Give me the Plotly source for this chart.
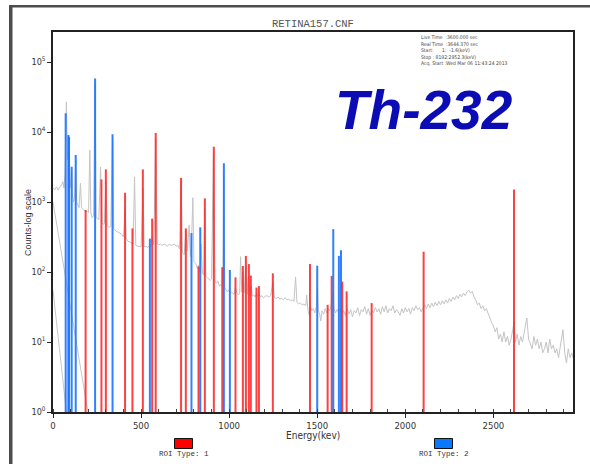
import plotly.graph_objects as go

# ---------------- data ----------------
# gray spectrum (energy keV, counts)
spec_energy = [0, 10, 20, 28, 40, 50, 56, 62, 68, 72, 76, 79, 82, 86, 89, 93, 97, 101, 106, 110,
               116, 122, 129, 134, 140, 148, 156, 162, 170, 178, 186, 194, 202, 209, 215, 222, 230, 239, 245, 252,
               260, 270, 278, 286, 292, 300, 308, 316, 328, 338, 345, 352, 360, 370, 380, 390, 400, 409, 416, 425,
               435, 445, 455, 463, 470, 480, 490, 500, 511, 518, 528, 538, 548, 556, 563, 572, 583, 592, 600, 610,
               620, 630, 640, 650, 660, 670, 680, 690, 700, 710, 718, 727, 735, 745, 755, 763, 773, 780, 786, 794,
               800, 810, 820, 826, 835, 840, 848, 856, 861, 868, 876, 885, 893, 900, 911, 920, 928, 936, 945, 954,
               962, 965, 969, 975, 982, 990, 998, 1005, 1012, 1020, 1028, 1036, 1044, 1052, 1060, 1065, 1072, 1078, 1085, 1095,
               1102, 1110, 1118, 1125, 1132, 1140, 1148, 1155, 1162, 1170, 1178, 1186, 1195, 1205, 1215, 1225, 1235, 1248, 1258, 1268,
               1278, 1288, 1298, 1308, 1318, 1328, 1338, 1348, 1358, 1368, 1377, 1385, 1395, 1405, 1415, 1425, 1435, 1440, 1448, 1455,
               1462, 1470, 1478, 1486, 1495, 1501, 1506, 1514, 1520, 1528, 1536, 1545, 1555, 1562, 1570, 1578, 1588, 1596, 1604, 1612,
               1620, 1630, 1640, 1650, 1660, 1670, 1680, 1690, 1700, 1710, 1720, 1730, 1740, 1750, 1760, 1770, 1780, 1790, 1800, 1810,
               1820, 1830, 1840, 1850, 1860, 1870, 1880, 1890, 1900, 1910, 1920, 1930, 1940, 1950, 1960, 1970, 1980, 1990, 2000, 2010,
               2020, 2030, 2040, 2050, 2060, 2070, 2080, 2090, 2100, 2110, 2120, 2130, 2140, 2150, 2160, 2170, 2180, 2190, 2200, 2210,
               2220, 2230, 2240, 2250, 2260, 2270, 2280, 2290, 2300, 2310, 2320, 2330, 2340, 2350, 2360, 2370, 2380, 2390, 2400, 2410,
               2420, 2430, 2440, 2450, 2460, 2470, 2480, 2490, 2500, 2510, 2520, 2530, 2540, 2550, 2560, 2570, 2580, 2590, 2600, 2610,
               2617, 2625, 2635, 2645, 2655, 2665, 2675, 2690, 2700, 2710, 2720, 2730, 2740, 2750, 2760, 2770, 2780, 2790, 2800, 2810,
               2820, 2830, 2840, 2850, 2860, 2870, 2880, 2895, 2905, 2915, 2925, 2935, 2945, 2952]
spec_counts = [1600, 1500, 1650, 1480, 1650, 1780, 1950, 1600, 2500, 12600, 27000, 10000, 4000, 8000, 8900, 3200, 1600, 2000, 2800, 1260,
               1000, 1120, 4000, 1000, 890, 830, 1860, 830, 790, 760, 720, 740, 710, 5500, 700, 600, 630, 50000, 630, 575,
               560, 3160, 500, 480, 500, 2000, 457, 436, 447, 7900, 417, 400, 380, 372, 355, 347, 316, 790, 302, 275,
               270, 263, 251, 2290, 240, 234, 234, 229, 1580, 229, 234, 224, 240, 229, 316, 245, 7900, 251, 245, 251,
               240, 251, 245, 234, 251, 240, 245, 251, 234, 240, 214, 2000, 186, 178, 400, 200, 468, 166, 251, 1150,
               141, 132, 112, 126, 100, 251, 95, 91, 800, 87, 83, 79, 76, 79, 5000, 72, 69, 74, 63, 66,
               63, 100, 2500, 60, 55, 52, 56, 50, 52, 50, 48, 60, 50, 47, 50, 166, 52, 100, 50, 126,
               48, 89, 46, 63, 45, 47, 44, 50, 45, 48, 44, 46, 43, 45, 46, 44, 46, 71, 43, 42,
               44, 41, 42, 40, 43, 40, 41, 39, 40, 38, 85, 37, 35, 36, 34, 35, 33, 47, 28, 24,
               32, 28, 30, 26, 32, 60, 28, 25, 20, 28, 25, 30, 26, 30, 28, 32, 50, 30, 26, 29,
               27, 30, 26, 28, 24, 30, 25, 29, 23, 28, 26, 31, 24, 29, 27, 32, 25, 30, 24, 28,
               26, 31, 27, 30, 25, 32, 27, 33, 26, 30, 28, 33, 26, 29, 27, 24, 30, 26, 31, 27,
               30, 25, 31, 28, 33, 29, 31, 27, 30, 34, 30, 35, 31, 36, 32, 37, 33, 38, 34, 39,
               35, 40, 36, 42, 38, 44, 40, 46, 42, 48, 44, 50, 46, 52, 55, 50, 53, 44, 40, 34,
               36, 30, 33, 28, 30, 25, 22, 19, 17, 14, 16, 11, 13, 10, 14, 10, 12, 9, 11, 15,
               19, 10, 13, 9, 12, 10, 14, 22, 11, 9, 8, 12, 9, 11, 8, 10, 7, 8, 10, 7,
               11, 8, 9, 7, 8, 6, 9, 15, 7, 5, 8, 6, 7, 6]

# low-energy connector segments of the spectrum display
diag_a_energy = [0, 198]
diag_a_counts = [1000, 1]
diag_b_energy = [0, 76]
diag_b_counts = [55, 1]

# ROI Type 1 (red) : energy, peak-top counts
roi1_energy = [185, 275, 300, 409, 451, 510, 563, 583, 727, 754, 826, 862, 913, 961, 1036, 1078, 1095, 1112, 1123, 1155,
               1169, 1248, 1459, 1559, 1582, 1642, 1667, 1809, 2104, 2617]
roi1_counts = [770, 2100, 2930, 1360, 420, 2930, 580, 9700, 2220, 420, 120, 1130, 6170, 117, 84, 122, 170, 130, 89, 60,
               63, 96, 130, 34, 88, 73, 53, 36, 195, 1510]

# ROI Type 2 (blue)
roi2_energy = [72, 87, 91, 106, 129, 239, 338, 550, 786, 836, 970, 1004, 1500, 1591, 1623, 1635]
roi2_counts = [18600, 9100, 8600, 3200, 4700, 58500, 9300, 300, 360, 435, 3580, 107, 123, 410, 170, 205]

x_ticks = [0, 500, 1000, 1500, 2000, 2500]
y_tickvals = [1, 10, 100, 1000, 10000, 100000]
y_ticktext = ["10<sup>0</sup>", "10<sup>1</sup>", "10<sup>2</sup>", "10<sup>3</sup>", "10<sup>4</sup>", "10<sup>5</sup>"]

info_lines = ["Live Time  :3600.000 sec",
              "Real Time  :3644.370 sec",
              "Start:      1:  -1.6(keV)",
              "Stop : 8192:2952.3(keV)",
              "Acq. Start :Wed Mar 06 11:43:24 2013"]

# ---------------- layout geometry ----------------
W, H = 590, 464
L, R, T, B = 53, 17, 32, 52
PW, PH = W - L - R, H - T - B


def px(xp):
    return (xp - L) / PW


def py(yp):
    return (H - B - yp) / PH


def stems(energies, counts):
    xs, ys = [], []
    for e, c in zip(energies, counts):
        xs += [e, e, None]
        ys += [1, c, None]
    return xs, ys


fig = go.Figure()
fig.add_trace(go.Scatter(x=diag_a_energy, y=diag_a_counts, mode="lines",
                         line=dict(color="#c8c8c8", width=1), hoverinfo="skip", showlegend=False))
fig.add_trace(go.Scatter(x=diag_b_energy, y=diag_b_counts, mode="lines",
                         line=dict(color="#c8c8c8", width=1), hoverinfo="skip", showlegend=False))
fig.add_trace(go.Scatter(x=spec_energy, y=spec_counts, mode="lines",
                         line=dict(color="#c4c4c4", width=1), hoverinfo="skip", showlegend=False))
rx, ry = stems(roi1_energy, roi1_counts)
fig.add_trace(go.Scatter(x=rx, y=ry, mode="lines", line=dict(color="rgba(250,40,40,0.88)", width=2),
                         hoverinfo="skip", showlegend=False))
bx, by = stems(roi2_energy, roi2_counts)
fig.add_trace(go.Scatter(x=bx, y=by, mode="lines", line=dict(color="rgba(25,115,255,0.9)", width=2),
                         hoverinfo="skip", showlegend=False))

tick_font = dict(family="Liberation Sans Narrow, DejaVu Sans Condensed, sans-serif", size=9.5, color="#333")

fig.update_layout(
    width=W, height=H,
    margin=dict(l=L, r=R, t=T, b=B),
    paper_bgcolor="white", plot_bgcolor="white",
    showlegend=False,
    xaxis=dict(range=[0, 2952], showgrid=False, zeroline=False,
               showline=True, linecolor="#222", linewidth=1.5, mirror=True,
               tickvals=x_ticks, ticks="outside", ticklen=4, tickcolor="#222",
               minor=dict(dtick=100, ticks="inside", ticklen=3, tickcolor="#444"),
               tickfont=tick_font),
    yaxis=dict(type="log", range=[0, 5.43], showgrid=False, zeroline=False,
               showline=True, linecolor="#222", linewidth=1.5, mirror=True,
               tickvals=y_tickvals, ticktext=y_ticktext, ticks="outside", ticklen=4,
               tickcolor="#222", tickfont=dict(family=tick_font["family"], size=9, color="#333")),
)

ann = []
ann.append(dict(text="RETINA157.CNF", x=0.5, y=py(24), xref="paper", yref="paper",
                showarrow=False, xanchor="center", yanchor="middle",
                font=dict(family="Liberation Mono, monospace", size=10.5, color="#555")))
ann.append(dict(text="<br>".join(info_lines), x=px(419), y=py(32.5), xref="paper", yref="paper",
                showarrow=False, xanchor="left", yanchor="top", align="left",
                font=dict(family="DejaVu Sans Condensed, sans-serif", size=5, color="#444")))
ann.append(dict(text="<b><i>Th-232</i></b>", x=px(424), y=py(110), xref="paper", yref="paper",
                showarrow=False, xanchor="center", yanchor="middle",
                font=dict(family="Liberation Sans, Arial, sans-serif", size=55, color="#0c0cb4")))
ann.append(dict(text="Energy(kev)", x=0.5, y=py(435), xref="paper", yref="paper",
                showarrow=False, xanchor="center", yanchor="middle",
                font=dict(family=tick_font["family"], size=10, color="#333")))
ann.append(dict(text="Counts-log scale", x=px(28), y=py(223), xref="paper", yref="paper",
                showarrow=False, xanchor="center", yanchor="middle", textangle=-90,
                font=dict(family="Liberation Sans, sans-serif", size=9, color="#333")))
ann.append(dict(text="ROI Type: 1", x=px(183.5), y=py(454), xref="paper", yref="paper",
                showarrow=False, xanchor="center", yanchor="middle",
                font=dict(family="Liberation Mono, monospace", size=7.5, color="#333")))
ann.append(dict(text="ROI Type: 2", x=px(443.5), y=py(454), xref="paper", yref="paper",
                showarrow=False, xanchor="center", yanchor="middle",
                font=dict(family="Liberation Mono, monospace", size=7.5, color="#333")))
fig.update_layout(annotations=ann)

shapes = [
    dict(type="rect", xref="paper", yref="paper", x0=px(174.5), x1=px(192.5), y0=py(438.5), y1=py(448.5),
         fillcolor="#ff0000", line=dict(color="#111", width=1)),
    dict(type="rect", xref="paper", yref="paper", x0=px(434.5), x1=px(452.5), y0=py(438.5), y1=py(448.5),
         fillcolor="#0a78ff", line=dict(color="#111", width=1)),
    # outer screenshot frame (left and top)
    dict(type="rect", xref="paper", yref="paper", x0=px(9), x1=px(12.5), y0=py(464), y1=py(5),
         fillcolor="#4d4d4d", line=dict(width=0)),
    dict(type="rect", xref="paper", yref="paper", x0=px(9), x1=px(590), y0=py(7.5), y1=py(5),
         fillcolor="#4d4d4d", line=dict(width=0)),
]
fig.update_layout(shapes=shapes)

fig.write_html("out.html")
